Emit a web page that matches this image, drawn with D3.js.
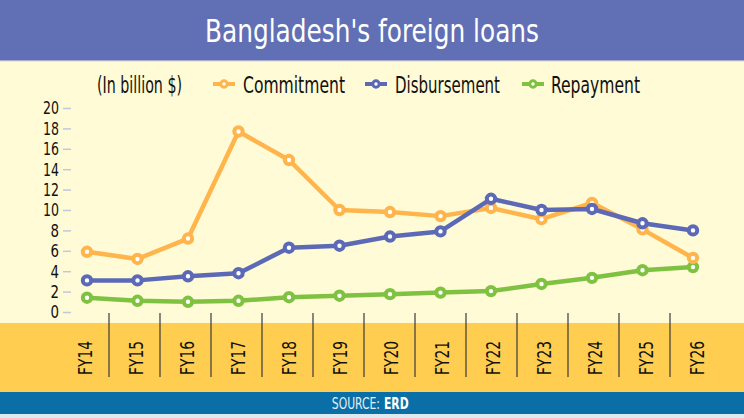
<!DOCTYPE html>
<html><head><meta charset="utf-8">
<script src="https://cdn.jsdelivr.net/npm/d3@7"></script>
<style>
html,body{margin:0;padding:0;background:#fffbd6;}
svg{display:block;}
text{font-family:"Liberation Sans Narrow","DejaVu Sans Condensed","Roboto",sans-serif;}
</style></head>
<body>
<svg id="c" width="744" height="418"></svg>
<script>
const categories = ["FY14","FY15","FY16","FY17","FY18","FY19","FY20","FY21","FY22","FY23","FY24","FY25","FY26"];
const commitment   = [5.9, 5.2, 7.2, 17.7, 14.9, 10.0, 9.8, 9.4, 10.2, 9.1, 10.7, 8.1, 5.3];
const disbursement = [3.1, 3.1, 3.5, 3.8, 6.3, 6.5, 7.4, 7.9, 11.1, 10.0, 10.1, 8.7, 8.0];
const repayment    = [1.4, 1.1, 1.0, 1.1, 1.45, 1.6, 1.75, 1.9, 2.05, 2.75, 3.35, 4.1, 4.4];
const yTicks = [0,2,4,6,8,10,12,14,16,18,20];
const seriesNames = ["Commitment","Disbursement","Repayment"];
const seriesColors = ["#ffb44c","#5b69b6","#7fc241"];

const svg = d3.select("#c");
// backgrounds
svg.append("rect").attr("x",0).attr("y",0).attr("width",744).attr("height",60).attr("fill","#6170b4");
svg.append("rect").attr("x",0).attr("y",60).attr("width",744).attr("height",1.5).attr("fill","#a9afcf");
svg.append("rect").attr("x",0).attr("y",61.5).attr("width",744).attr("height",262).attr("fill","#fffbd6");
svg.append("rect").attr("x",0).attr("y",323).attr("width",744).attr("height",69).attr("fill","#ffcd4f");
svg.append("rect").attr("x",0).attr("y",392).attr("width",744).attr("height",22).attr("fill","#0a6fa6");
svg.append("rect").attr("x",0).attr("y",414).attr("width",744).attr("height",4).attr("fill","#dfeaf0");

// title
svg.append("text").attr("x",372).attr("y",42).attr("text-anchor","middle")
  .attr("fill","#fff").attr("font-size",32).attr("textLength",334).attr("lengthAdjust","spacingAndGlyphs")
  .text("Bangladesh's foreign loans");

// scales
const y = d3.scaleLinear().domain([0,20]).range([312,108]);
const xp = d3.scalePoint().domain(categories).range([87,693]);
const xb = d3.scaleBand().domain(categories).range([58,721]).paddingInner(0).paddingOuter(0);

// y axis
const yAxis = d3.axisLeft(y).tickValues(yTicks).tickSize(8).tickPadding(4);
const gy = svg.append("g").attr("transform","translate(71,0)").call(yAxis);
gy.select(".domain").remove();
gy.selectAll(".tick line").attr("stroke","#c3c7da").attr("stroke-width",1.5);
gy.selectAll(".tick text").attr("font-size",18.5).attr("fill","#111")
  .attr("font-family","\"Liberation Sans Narrow\",\"DejaVu Sans Condensed\",sans-serif")
  .attr("textLength",d=>d>=10?16:8.5).attr("lengthAdjust","spacingAndGlyphs");

// x axis: tick separators at band boundaries, rotated labels
const bounds = categories.slice(1).map(c => xb(c));
svg.append("g").selectAll("line").data(bounds).join("line")
  .attr("x1",d=>d).attr("x2",d=>d).attr("y1",313).attr("y2",377)
  .attr("stroke","#3a3a3a").attr("stroke-width",1.2);
svg.append("g").selectAll("text").data(categories).join("text")
  .attr("transform",d=>`translate(${xb(d)+xb.bandwidth()/2+8},375) rotate(-90)`)
  .attr("text-anchor","start").attr("font-size",19.5).attr("fill","#111")
  .attr("textLength",34).attr("lengthAdjust","spacingAndGlyphs")
  .text(d=>d);

// lines
const line = d3.line().x((d,i)=>xp(categories[i])).y(d=>y(d));
const data = [
  {name:"Repayment", vals:repayment, color:seriesColors[2]},
  {name:"Commitment", vals:commitment, color:seriesColors[0]},
  {name:"Disbursement", vals:disbursement, color:seriesColors[1]}
];
data.forEach(s=>{
  const g = svg.append("g");
  g.append("path").attr("d",line(s.vals)).attr("fill","none").attr("stroke",s.color)
    .attr("stroke-width",4.5).attr("stroke-linejoin","round");
  g.selectAll("circle").data(s.vals).join("circle")
    .attr("cx",(d,i)=>xp(categories[i])).attr("cy",d=>y(d)).attr("r",4.2)
    .attr("fill","#fff").attr("stroke",s.color).attr("stroke-width",4);
});

// legend
svg.append("text").attr("x",97).attr("y",93).attr("font-size",23).attr("fill","#111")
  .attr("textLength",85).attr("lengthAdjust","spacingAndGlyphs").text("(In billion $)");
const legendItems = [
  {name:"Commitment", color:seriesColors[0], sx:213, tx:243, tw:102},
  {name:"Disbursement", color:seriesColors[1], sx:365, tx:395, tw:105},
  {name:"Repayment", color:seriesColors[2], sx:522, tx:551, tw:89}
];
legendItems.forEach(l=>{
  svg.append("line").attr("x1",l.sx).attr("x2",l.sx+22).attr("y1",84).attr("y2",84)
    .attr("stroke",l.color).attr("stroke-width",4);
  svg.append("circle").attr("cx",l.sx+11).attr("cy",84).attr("r",3.2)
    .attr("fill","#fff").attr("stroke",l.color).attr("stroke-width",3);
  svg.append("text").attr("x",l.tx).attr("y",93).attr("font-size",23).attr("fill","#111")
    .attr("textLength",l.tw).attr("lengthAdjust","spacingAndGlyphs").text(l.name);
});

// source: two texts, horizontally compressed via transform
svg.append("text").attr("transform","translate(380,409) scale(0.8,1)").attr("text-anchor","end")
  .attr("font-size",15).attr("fill","#e6eef4").text("SOURCE:");
svg.append("text").attr("transform","translate(384,409) scale(0.8,1)").attr("text-anchor","start")
  .attr("font-size",15).attr("font-weight","bold").attr("fill","#fff").text("ERD");
</script>
</body></html>
